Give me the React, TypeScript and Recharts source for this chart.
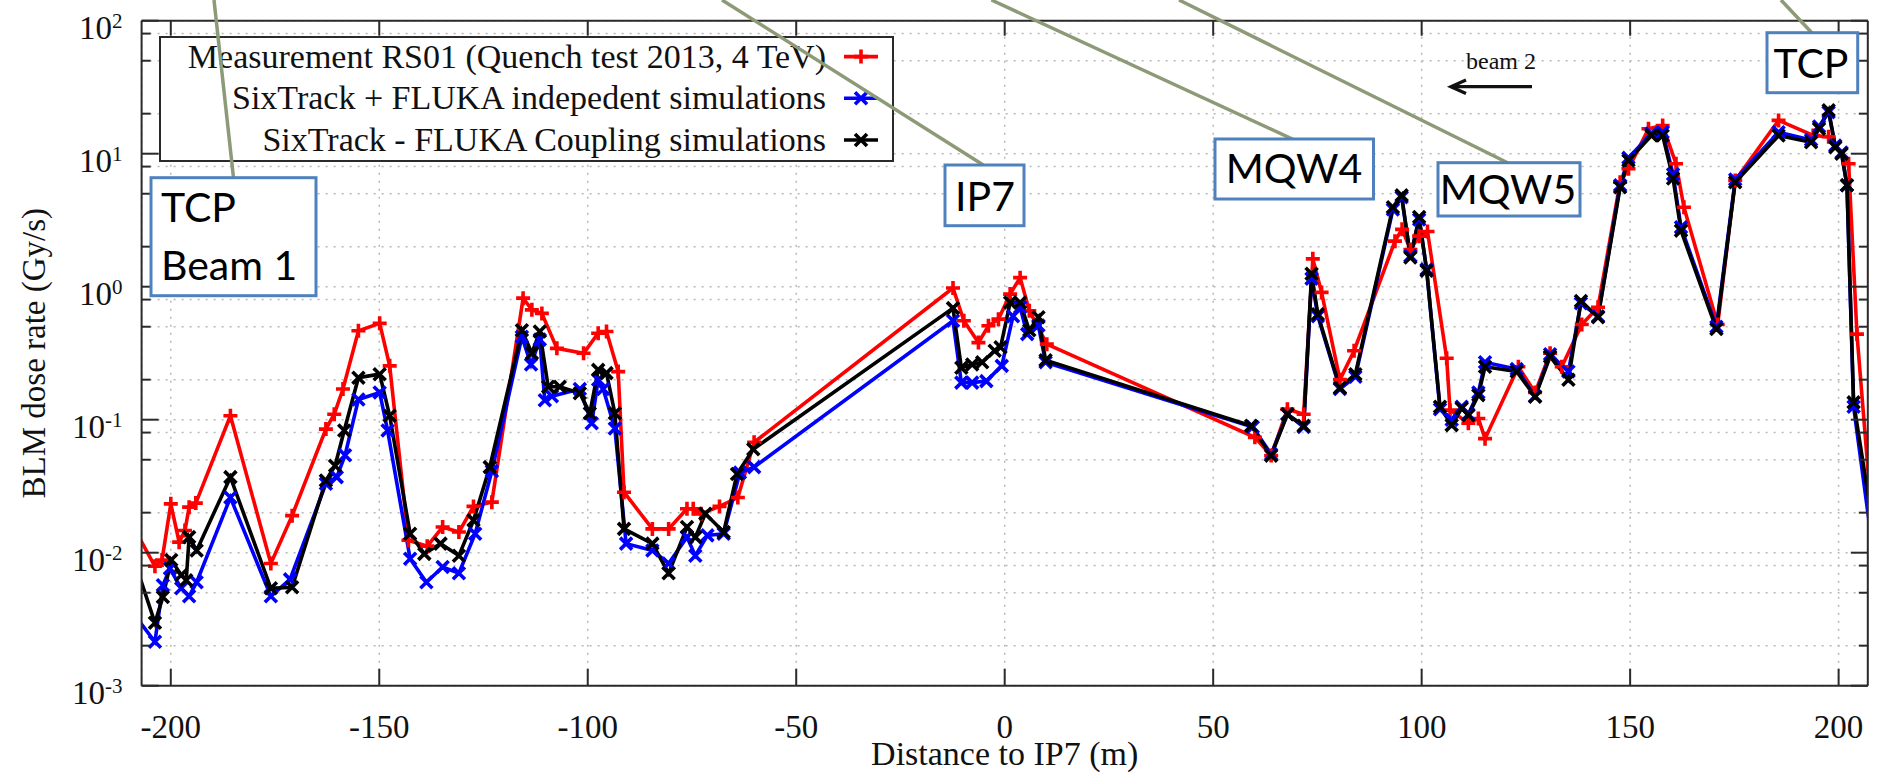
import { LineChart, Line, XAxis, YAxis, CartesianGrid, Legend } from 'recharts';

const W = 1878;
const H = 774;

const SERIF = '"Liberation Serif", "Times New Roman", serif';
const SANS = 'Lato, "Open Sans", sans-serif';

// Distance to IP7 (m) and BLM dose rate (Gy/s) per series
const measX = [
  -209, -203.8, -202.1, -200, -198, -196.6, -195.6, -194, -185.7, -176, -170.9, -162.8, -160.8, -158.7,
  -155, -149.9, -147.5, -143, -138.5, -134.8, -130.9, -127.4, -123, -115.5, -113.4, -111, -107.4, -101,
  -97.5, -95.5, -92.7, -91.3, -84.5, -80.6, -76.2, -74.7, -72.8, -68.4, -64, -60.1, -12.4, -9.8, -6.3, -3.9,
  -1.5, 1.3, 3.7, 5.9, 10.1, 60, 63.9, 67.8, 71.7, 73.9, 76, 80.4, 83.8, 93.6, 95.3, 97.3, 99.4, 101.4, 106,
  106.8, 111.2, 113.6, 115.2, 123.2, 127.2, 130.8, 133.6, 138.4, 142.3, 147.6, 149.6, 154.4, 157.8, 161,
  162.9, 171, 175.2, 185.6, 193.9, 197.6, 202.4, 204.4, 209,
];
const measY = [
  0.0157, 0.0079, 0.0088, 0.0233, 0.012, 0.0147, 0.022, 0.0236, 0.107, 0.0083, 0.019, 0.085, 0.11, 0.17,
  0.466, 0.53, 0.254, 0.0124, 0.0112, 0.0156, 0.0143, 0.0223, 0.024, 0.82, 0.67, 0.63, 0.344, 0.316,
  0.447, 0.46, 0.23, 0.0285, 0.0151, 0.0151, 0.0214, 0.0214, 0.0196, 0.0223, 0.026, 0.0676, 0.977, 0.555, 0.38, 0.508,
  0.57, 0.88, 1.17, 0.66, 0.37, 0.0737, 0.0537, 0.12, 0.11, 1.62, 0.906, 0.2, 0.33, 2.2, 2.7, 1.9, 2.4, 2.6, 0.29,
  0.118, 0.094, 0.102, 0.072, 0.25, 0.16, 0.316, 0.25, 0.52, 0.7, 6.1, 7.7, 15.4, 16.3, 8.4,
  3.96, 0.52, 6.3, 17.8, 13.7, 13.4, 8.4, 0.44, 0.0074,
];

const indepX = [
  -209, -203.8, -201.9, -200.2, -197.5, -195.6, -193.8, -185.7, -176, -171.4, -162.8, -160.2, -158.2, -155,
  -149.9, -148, -142.6, -138.7, -134.8, -130.9, -127, -123, -115.8, -113.6, -111.5, -110.3, -108.6, -101.9,
  -99.05, -97.5, -96.3, -93.5, -90.8, -84.5, -80.6, -76.2, -74.2, -71.3, -67.4, -63.5, -60.1, -12.4, -10.4,
  -7.8, -4.4, -0.7, 2, 3.7, 5.4, 8.1, 9.8, 59.5, 63.9, 67.8, 71.7, 73.6, 75.1, 80.4, 84.1, 93.1, 95.2, 97.3,
  99.4, 101.2, 104.4, 107.2, 109.6, 111.2, 113.6, 115.2, 122.8, 127.2, 130.8, 135.2, 138.2, 142.3, 147.6,
  149.6, 155.1, 157.8, 160.3, 162.2, 170.7, 175.2, 185.6, 193.4, 195.3, 197.6, 199.2, 200.7, 202, 203.6, 209,
];
const indepY = [
  0.0035, 0.00214, 0.0057, 0.0076, 0.0054, 0.0047, 0.006, 0.026, 0.0047, 0.0063, 0.033, 0.037, 0.054, 0.142,
  0.16, 0.083, 0.009, 0.006, 0.0078, 0.007, 0.0139, 0.041, 0.42, 0.26, 0.4, 0.14, 0.15, 0.17,
  0.094, 0.2, 0.17, 0.086, 0.0117, 0.0104, 0.0083, 0.0131, 0.0095, 0.0135, 0.0139, 0.04, 0.044, 0.555, 0.19,
  0.19, 0.195, 0.254, 0.6, 0.7, 0.44, 0.51, 0.27, 0.088, 0.055, 0.11, 0.088, 1.15, 0.6, 0.17, 0.21, 3.8, 4.7, 1.7,
  3.2, 1.35, 0.12, 0.1, 0.125, 0.11, 0.16, 0.27, 0.24, 0.15, 0.31, 0.23, 0.75, 0.6, 5.8,
  9.3, 14.2, 14.5, 7, 2.8, 0.5, 6.4, 14.5, 12.7, 16, 20.5, 11.5, 10.2, 5.8, 0.125, 0.0069,
];

const coupX = [
  -209, -203.8, -201.9, -199.9, -197.5, -196.3, -195.6, -193.8, -185.7, -176, -170.9, -162.8, -160.6, -158.4,
  -155, -149.9, -147.5, -142.6, -139.2, -135.3, -130.9, -127.4, -123.5, -115.8, -113.4, -111.5, -109.5, -106.7,
  -101.9, -99.5, -97.5, -95.5, -93.5, -91.3, -84.5, -80.6, -76.2, -74.2, -71.8, -67.4, -64.2, -60.3, -12.4,
  -10.4, -7.8, -5.4, -2.4, -1, 1.3, 3.7, 5.9, 8.1, 9.8, 59.1, 63.9, 67.8, 71.7, 73.6, 75.1, 80.4, 84.1, 93.1,
  95.2, 97.3, 99.4, 101.2, 104.4, 107.2, 109.6, 111.2, 113.6, 115.2, 122.8, 127.2, 130.8, 135.2, 138.2, 142.3,
  147.6, 149.6, 155.1, 157.8, 160.3, 162.2, 170.7, 175.2, 185.6, 193.4, 195.3, 197.6, 199.2, 200.7, 202,
  203.6, 209,
];
const coupY = [
  0.0092, 0.00297, 0.00465, 0.0088, 0.0068, 0.0062, 0.0131, 0.0104, 0.037, 0.0054, 0.0055, 0.0349, 0.045, 0.083,
  0.207, 0.22, 0.107, 0.0139, 0.0098, 0.0117, 0.0095, 0.0175, 0.044, 0.47, 0.316, 0.46, 0.177, 0.177,
  0.158, 0.112, 0.237, 0.224, 0.112, 0.0151, 0.0117, 0.007, 0.0156, 0.0131, 0.0196, 0.0143, 0.039, 0.06, 0.69,
  0.246, 0.26, 0.27, 0.33, 0.35, 0.76, 0.76, 0.47, 0.59, 0.28, 0.09, 0.0537, 0.11, 0.09, 1.25, 0.62, 0.174, 0.22, 3.96,
  4.86, 1.66, 3.34, 1.32, 0.125, 0.091, 0.122, 0.108, 0.153, 0.25, 0.23, 0.149, 0.298, 0.2, 0.78, 0.59,
  5.6, 8.9, 13.7, 13.7, 6.5, 2.64, 0.48, 6.1, 13.7, 12.2, 15.4, 21.2, 11.2, 10, 5.8,
  0.135, 0.0112,
];

const seriesNames = [
  'Measurement RS01 (Quench test 2013, 4 TeV)',
  'SixTrack + FLUKA indepedent simulations',
  'SixTrack - FLUKA Coupling simulations',
];
const seriesColors = ['#ff0000', '#0000ff', '#000000'];

const xTicks = [-200, -150, -100, -50, 0, 50, 100, 150, 200];
const yTicks = [
  0.001, 0.002, 0.005, 0.008, 0.01, 0.02, 0.05, 0.08, 0.1, 0.2, 0.5, 0.8, 1, 2, 5, 8, 10, 20, 50, 80, 100,
];

const meas = measX.map((x, i) => ({ x, y: measY[i] }));
const indep = indepX.map((x, i) => ({ x, y: indepY[i] }));
const coup = coupX.map((x, i) => ({ x, y: coupY[i] }));

const AXIS = '#2a2a2a';
const LW = 3.6;
const isMajor = (v: number) => Math.abs(Math.log10(v) - Math.round(Math.log10(v))) < 1e-6;

function plusPath(cx: number, cy: number, r: number) {
  return `M${cx - r},${cy}H${cx + r}M${cx},${cy - r}V${cy + r}`;
}
function crossPath(cx: number, cy: number, r: number) {
  return `M${cx - r},${cy - r}L${cx + r},${cy + r}M${cx - r},${cy + r}L${cx + r},${cy - r}`;
}

const plusDot = (color: string) => (p: any) => (
  <path key={`p-${p.index}`} d={plusPath(p.cx, p.cy, 7)} stroke={color} strokeWidth={LW} fill="none" />
);
const crossDot = (color: string) => (p: any) => (
  <path key={`c-${p.index}`} d={crossPath(p.cx, p.cy, 6)} stroke={color} strokeWidth={LW} fill="none" />
);

function BottomTick({ x, y, payload }: any) {
  return (
    <g>
      <line x1={x} x2={x} y1={y} y2={y - 17} stroke={AXIS} strokeWidth={2} />
      <text x={x} y={y + 52.5} textAnchor="middle" fontFamily={SERIF} fontSize={33} fill="#111">
        {payload.value}
      </text>
    </g>
  );
}

function TopTick({ x, y }: any) {
  return <line x1={x} x2={x} y1={y} y2={y + 15} stroke={AXIS} strokeWidth={2} />;
}

function LeftTick({ x, y, payload }: any) {
  const v = payload.value;
  const major = isMajor(v);
  return (
    <g>
      <line x1={x} x2={x + (major ? 17 : 9)} y1={y} y2={y} stroke={AXIS} strokeWidth={2} />
      {major && (
        <text x={x - 19} y={y + 18} textAnchor="end" fontFamily={SERIF} fontSize={33} fill="#111">
          10
          <tspan dy={-11} fontSize={21}>
            {Math.round(Math.log10(v))}
          </tspan>
        </text>
      )}
    </g>
  );
}

function RightTick({ x, y, payload }: any) {
  const major = isMajor(payload.value);
  return <line x1={x} x2={x - (major ? 17 : 9)} y1={y} y2={y} stroke={AXIS} strokeWidth={2} />;
}

function LegendBox() {
  const rowH = 41.7;
  return (
    <svg width={735} height={126} style={{ display: 'block' }}>
      <rect x={1} y={1} width={733} height={124} fill="#fff" stroke={AXIS} strokeWidth={2} />
      {seriesNames.map((name, i) => {
        const cy = 20.6 + i * rowH;
        return (
          <g key={name}>
            <text x={667} y={31.6 + i * rowH} textAnchor="end" fontFamily={SERIF} fontSize={34} fill="#111">
              {name}
            </text>
            <line x1={685} x2={719} y1={cy} y2={cy} stroke={seriesColors[i]} strokeWidth={LW} />
            <path
              d={i === 0 ? plusPath(702, cy, 7) : crossPath(702, cy, 6)}
              stroke={seriesColors[i]}
              strokeWidth={LW}
              fill="none"
            />
          </g>
        );
      })}
    </svg>
  );
}

// callout boxes and their leader lines
const calloutLines = [
  [214, 0, 233.5, 177.7],
  [722, 0, 983.3, 165],
  [991.4, 0, 1293, 139.3],
  [1179, 0, 1508.6, 163.3],
  [1781, 0, 1811.8, 32.7],
];
const callouts = [
  { x: 151, y: 177.7, w: 165, h: 118, lines: ['TCP', 'Beam 1'], tx: 161, ty: [221.7, 280], anchor: 'start' },
  { x: 945, y: 165, w: 79, h: 60.7, lines: ['IP7'], tx: 985, ty: [210.7], anchor: 'middle' },
  { x: 1215, y: 139, w: 158.5, h: 60, lines: ['MQW4'], tx: 1294, ty: [183.3], anchor: 'middle' },
  { x: 1438, y: 162.7, w: 142, h: 53.3, lines: ['MQW5'], tx: 1508, ty: [204], anchor: 'middle' },
  { x: 1767, y: 32.7, w: 90.7, h: 60, lines: ['TCP'], tx: 1811, ty: [78.3], anchor: 'middle' },
];

function Annotations() {
  return (
    <svg
      width={W}
      height={H}
      style={{ position: 'absolute', left: 0, top: 0, pointerEvents: 'none' }}
    >
      <text x={1501} y={69} textAnchor="middle" fontFamily={SERIF} fontSize={24} fill="#111">
        beam 2
      </text>
      <line x1={1532} x2={1451} y1={86.7} y2={86.7} stroke="#111" strokeWidth={3.3} />
      <path d="M1466,80 L1451,86.7 L1466,93.4" stroke="#111" strokeWidth={3.3} fill="none" />
      {calloutLines.map(([x1, y1, x2, y2], i) => (
        <line key={i} x1={x1} y1={y1} x2={x2} y2={y2} stroke="#8c9a77" strokeWidth={3.5} />
      ))}
      {callouts.map((c) => (
        <g key={c.lines.join(' ')}>
          <rect x={c.x} y={c.y} width={c.w} height={c.h} fill="#fff" stroke="#4f81bd" strokeWidth={3} />
          {c.lines.map((t, j) => (
            <text
              key={t}
              x={c.tx}
              y={c.ty[j]}
              textAnchor={c.anchor as any}
              fontFamily={SANS}
              fontSize={41}
              fill="#000"
            >
              {t}
            </text>
          ))}
        </g>
      ))}
    </svg>
  );
}

export default function App() {
  return (
    <div
      style={{ position: 'absolute', left: 0, top: 0, width: W, height: H, background: '#fff', overflow: 'hidden' }}
    >
      <LineChart width={W} height={H} margin={{ top: 19.7, right: 9.2, bottom: 8.3, left: 41.6 }}>
        <CartesianGrid stroke="#b8b8b8" strokeDasharray="2 6" strokeWidth={1.5} />
        <XAxis
          dataKey="x"
          type="number"
          domain={[-207, 207]}
          allowDataOverflow
          ticks={xTicks}
          interval={0}
          height={80}
          tickSize={0}
          tickMargin={0}
          tick={<BottomTick />}
          axisLine={{ stroke: AXIS, strokeWidth: 2 }}
          label={({ viewBox }: any) => (
            <text
              x={viewBox.x + viewBox.width / 2}
              y={viewBox.y + 79.3}
              textAnchor="middle"
              fontFamily={SERIF}
              fontSize={34}
              fill="#111"
            >
              Distance to IP7 (m)
            </text>
          )}
        />
        <XAxis
          xAxisId="top"
          orientation="top"
          dataKey="x"
          type="number"
          domain={[-207, 207]}
          allowDataOverflow
          ticks={xTicks}
          interval={0}
          height={1}
          tickSize={0}
          tickMargin={0}
          tick={<TopTick />}
          axisLine={{ stroke: AXIS, strokeWidth: 2 }}
        />
        <YAxis
          dataKey="y"
          scale="log"
          type="number"
          domain={[0.001, 100]}
          allowDataOverflow
          ticks={yTicks}
          interval={0}
          width={100}
          tickSize={0}
          tickMargin={0}
          tick={<LeftTick />}
          axisLine={{ stroke: AXIS, strokeWidth: 2 }}
          label={({ viewBox }: any) => {
            const cx = viewBox.x + 3.4;
            const cy = viewBox.y + viewBox.height / 2;
            return (
              <text
                x={cx}
                y={cy}
                transform={`rotate(-90 ${cx} ${cy})`}
                textAnchor="middle"
                fontFamily={SERIF}
                fontSize={33}
                fill="#111"
              >
                BLM dose rate (Gy/s)
              </text>
            );
          }}
        />
        <YAxis
          yAxisId="right"
          orientation="right"
          scale="log"
          type="number"
          domain={[0.001, 100]}
          allowDataOverflow
          ticks={yTicks}
          interval={0}
          width={1}
          tickSize={0}
          tickMargin={0}
          tick={<RightTick />}
          axisLine={{ stroke: AXIS, strokeWidth: 2 }}
        />
        <Legend
          layout="vertical"
          align="center"
          verticalAlign="middle"
          wrapperStyle={{ left: 159, top: 36, width: 735, height: 126 }}
          content={() => <LegendBox />}
        />
        <Line
          data={meas}
          dataKey="y"
          name={seriesNames[0]}
          type="linear"
          stroke={seriesColors[0]}
          strokeWidth={LW}
          dot={plusDot(seriesColors[0])}
          isAnimationActive={false}
        />
        <Line
          data={indep}
          dataKey="y"
          name={seriesNames[1]}
          type="linear"
          stroke={seriesColors[1]}
          strokeWidth={LW}
          dot={crossDot(seriesColors[1])}
          isAnimationActive={false}
        />
        <Line
          data={coup}
          dataKey="y"
          name={seriesNames[2]}
          type="linear"
          stroke={seriesColors[2]}
          strokeWidth={LW}
          dot={crossDot(seriesColors[2])}
          isAnimationActive={false}
        />
      </LineChart>
      <Annotations />
    </div>
  );
}
